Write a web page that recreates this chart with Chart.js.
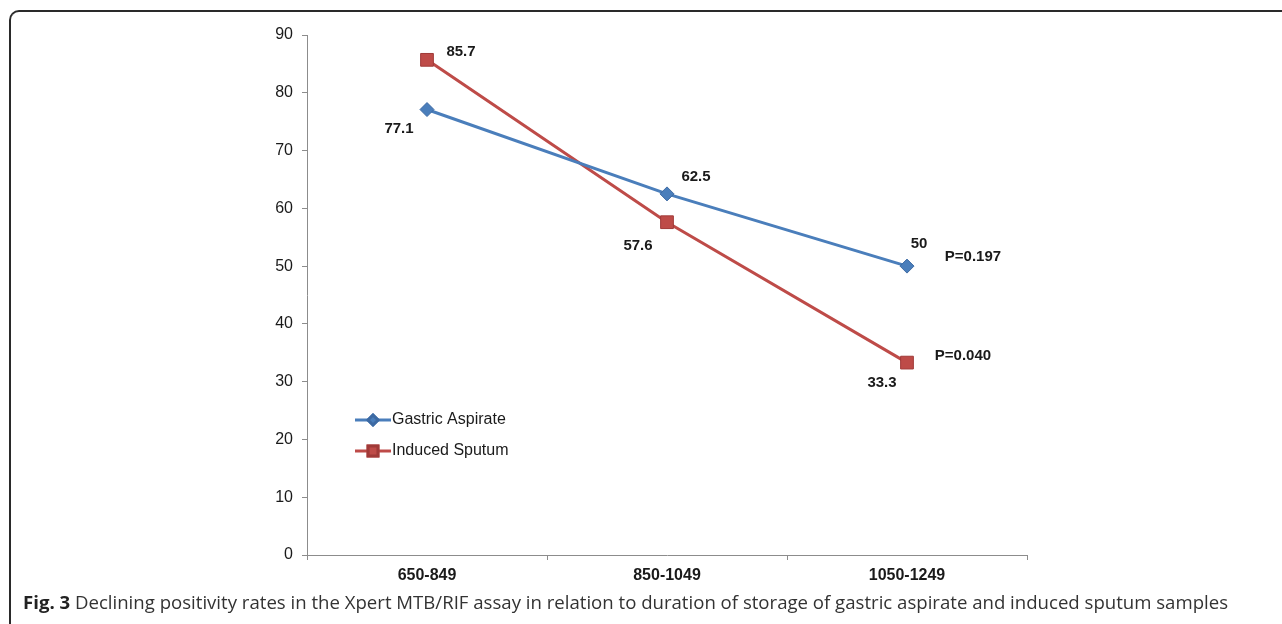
<!DOCTYPE html>
<html>
<head>
<meta charset="utf-8">
<script src="https://cdn.jsdelivr.net/npm/chart.js@4"></script>
<style>
  body { margin: 0; background: #fff; width: 1282px; height: 624px; overflow: hidden; position: relative; }
  #frame { position: absolute; left: 9px; top: 10px; width: 1290px; height: 640px;
           border-left: 2px solid #2a2a2a; border-top: 2px solid #2a2a2a; border-top-left-radius: 10px; }
  #wrap { position: absolute; left: 0; top: 0; width: 1282px; height: 590px; }
  #caption { position: absolute; left: 23px; top: 589px; font-family: "Open Sans", sans-serif;
             font-size: 18.6px; color: #333; white-space: nowrap; }
  #caption b { color: #222; }
</style>
</head>
<body>
<div id="frame"></div>
<div id="wrap"><canvas id="grafik"></canvas></div>
<div id="caption"><b>Fig. 3</b> Declining positivity rates in the Xpert MTB/RIF assay in relation to duration of storage of gastric aspirate and induced sputum samples</div>
<script>
// data
var kategori = ['650-849', '850-1049', '1050-1249']
var gastric = [77.1, 62.5, 50]
var sputum = [85.7, 57.6, 33.3]
var nilaiP = ['P=0.197', 'P=0.040']
var tickY = [0, 10, 20, 30, 40, 50, 60, 70, 80, 90]

// labels next to the points
var labelPlugin = {
  id: 'labels',
  afterDatasetsDraw(chart) {
    var ctx = chart.ctx
    ctx.save()
    ctx.font = 'bold 15px "Liberation Sans", Arial'
    ctx.fillStyle = '#1a1a1a'
    ctx.textAlign = 'center'
    ctx.textBaseline = 'middle'
    chart.data.datasets.forEach(function (ds, i) {
      var meta = chart.getDatasetMeta(i)
      meta.data.forEach(function (pt, j) {
        var off = ds.labelOffset[j]
        ctx.fillText(String(ds.data[j]), pt.x + off[0], pt.y + off[1])
      })
      var last = meta.data[meta.data.length - 1]
      ctx.fillText(nilaiP[i], last.x + ds.pOffset[0], last.y + ds.pOffset[1])
    })
    // legend
    ctx.font = '16px "Liberation Sans", Arial'
    ctx.textAlign = 'left'
    var lx = 355, ly = 420
    chart.data.datasets.forEach(function (ds, i) {
      var y = ly + i * 31
      ctx.strokeStyle = ds.borderColor
      ctx.lineWidth = 3
      ctx.beginPath()
      ctx.moveTo(lx, y)
      ctx.lineTo(lx + 36, y)
      ctx.stroke()
      Chart.helpers.drawPoint(ctx, {pointStyle: ds.pointStyle, radius: ds.pointRadius - 2, borderWidth: 1}, lx + 18, y)
      ctx.fillStyle = ds.pointBackgroundColor
      ctx.strokeStyle = ds.pointBorderColor
      ctx.fill()
      ctx.stroke()
      ctx.fillStyle = '#1a1a1a'
      ctx.fillText(ds.label, lx + 37, y)
    })
    ctx.restore()
  }
}

new Chart(document.getElementById('grafik'), {
  type: 'line',
  data: {
    labels: kategori,
    datasets: [{
      label: 'Gastric Aspirate',
      data: gastric,
      borderColor: '#4A7EBB',
      borderWidth: 3,
      pointStyle: 'rectRot',
      pointRadius: 7,
      pointBackgroundColor: '#4A7EBB',
      pointBorderColor: '#3d6aa3',
      pointBorderWidth: 1,
      labelOffset: [[-28, 19], [29, -17], [12, -22]],
      pOffset: [66, -9]
    }, {
      label: 'Induced Sputum',
      data: sputum,
      borderColor: '#BE4B48',
      borderWidth: 3,
      pointStyle: 'rect',
      pointRadius: 9,
      pointBackgroundColor: '#BE4B48',
      pointBorderColor: '#a03a38',
      pointBorderWidth: 1,
      labelOffset: [[34, -8], [-29, 24], [-25, 20]],
      pOffset: [56, -7]
    }]
  },
  options: {
    responsive: true,
    maintainAspectRatio: false,
    animation: false,
    layout: { padding: { left: 247, right: 255, top: 35, bottom: 5 } },
    plugins: { legend: { display: false }, tooltip: { enabled: false } },
    elements: { line: { tension: 0 } },
    scales: {
      y: {
        min: 0, max: 90,
        afterFit: function (s) { s.width = 60 },
        afterBuildTicks: function (s) { s.ticks = tickY.map(function (v) { return {value: v} }) },
        border: { color: '#8c8c8c', width: 1 },
        grid: { drawOnChartArea: false, color: '#8c8c8c', tickLength: 5 },
        ticks: { color: '#1a1a1a', padding: 9, font: { family: '"Liberation Sans", Arial', size: 16 } }
      },
      x: {
        offset: true,
        afterFit: function (s) { s.height = 30 },
        border: { color: '#8c8c8c', width: 1 },
        grid: { offset: true, drawOnChartArea: false, color: '#8c8c8c', tickLength: 5 },
        ticks: { color: '#1a1a1a', padding: 6, font: { family: '"Liberation Sans", Arial', size: 16, weight: 'bold' } }
      }
    }
  },
  plugins: [labelPlugin]
})
</script>
</body>
</html>
